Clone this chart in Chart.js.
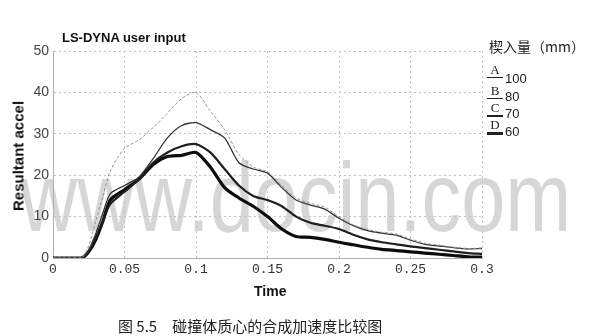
<!DOCTYPE html>
<html>
<head>
<meta charset="utf-8">
<script src="https://cdn.jsdelivr.net/npm/chart.js@4/dist/chart.umd.min.js"></script>
<style>
  body { margin: 0; background: #fff; }
  #wrap { position: relative; width: 593px; height: 336px; overflow: hidden; font-family: "Liberation Sans", Arial, sans-serif; }
  #wm { position: absolute; left: 20px; top: 148px; font-size: 98px; line-height: 1; color: #d6d6d6; white-space: nowrap; transform: scaleX(0.81); transform-origin: left top; }
  #chartBox { position: absolute; left: 0; top: 0; width: 593px; height: 336px; }
  .txt { position: absolute; white-space: nowrap; color: #111; }
  #title { left: 62px; top: 30px; font-size: 13px; font-weight: bold; }
  #ylab { left: 18px; top: 156px; font-size: 15px; font-weight: bold; transform: translate(-50%, -50%) rotate(-90deg); }
  #xlab { left: 254px; top: 283px; font-size: 14px; font-weight: bold; }
  #caption { left: 118px; top: 315px; font-size: 15px; font-family: "Noto Sans CJK SC", sans-serif; color: #222; }
  #legTitle { left: 489px; top: 36px; font-size: 14px; font-family: "Noto Sans CJK SC", sans-serif; color: #222; }
  .lg { position: absolute; left: 487px; width: 16px; text-align: center; font-family: "Liberation Serif", serif; font-size: 13px; line-height: 12px; color: #222; }
  .lg span { display: block; margin-top: 1px; background: #222; }
  .lv { position: absolute; left: 505px; font-size: 13px; line-height: 12px; color: #222; }
</style>
</head>
<body>
<div id="wrap">
  <div id="wm">www.docin.com</div>
  <div id="chartBox"><canvas id="accelChart" width="593" height="336"></canvas></div>
  <div class="txt" id="title">LS-DYNA user input</div>
  <div class="txt" id="ylab">Resultant accel</div>
  <div class="txt" id="xlab">Time</div>
  <div class="txt" id="caption">图 5.5　碰撞体质心的合成加速度比较图</div>
  <div class="txt" id="legTitle">楔入量（mm）</div>
  <div class="lg" style="top:64px">A<span style="height:1px"></span></div>
  <div class="lv" style="top:73px">100</div>
  <div class="lg" style="top:85px">B<span style="height:1px"></span></div>
  <div class="lv" style="top:91px">80</div>
  <div class="lg" style="top:102px">C<span style="height:2px"></span></div>
  <div class="lv" style="top:108px">70</div>
  <div class="lg" style="top:119px">D<span style="height:3px"></span></div>
  <div class="lv" style="top:126px">60</div>
</div>

<script>
// time axis (s)
const times = [0, 0.01, 0.02, 0.025, 0.03, 0.035, 0.04, 0.05, 0.06, 0.07, 0.08, 0.09, 0.1, 0.11, 0.12, 0.13, 0.14, 0.15,
  0.16, 0.17, 0.18, 0.19, 0.2, 0.21, 0.22, 0.23, 0.24, 0.25, 0.26, 0.27, 0.28, 0.29, 0.3];

// resultant accel for each wedge depth
const accelA = [0, 0, 0, 3, 9, 15, 21, 26.5, 28.5, 31.5, 35, 38.5, 40, 35.5, 31, 25, 22, 20.8,
  17.5, 14.5, 13.2, 12.3, 10, 8, 6.9, 6.2, 5.8, 4.6, 3.6, 3.1, 2.6, 2.3, 2.4];
const accelB = [0, 0, 0, 2, 6, 11, 15.5, 17.5, 19.5, 24, 29, 32, 32.7, 31, 29, 23, 21.5, 20.5,
  17, 14, 12.8, 11.8, 9.6, 7.8, 6.6, 6, 5.5, 4.3, 3.3, 2.9, 2.5, 2.2, 2.3];
const accelC = [0, 0, 0, 1.5, 5, 9, 13, 16, 19, 23, 25.5, 27, 27.5, 25.5, 21.5, 17.5, 15, 14,
  12.5, 10, 8.5, 7.8, 7, 5.6, 4.5, 3.8, 3.3, 2.8, 2.4, 2, 1.6, 1.2, 1];
const accelD = [0, 0, 0, 1.5, 4.5, 9, 14, 16.5, 19, 22.5, 24.5, 24.8, 25.5, 22, 17, 14.5, 12.5, 10,
  7, 5.2, 5, 4.5, 3.8, 3.2, 2.6, 2.1, 1.8, 1.5, 1.2, 0.9, 0.6, 0.3, 0.2];

const depths = ["100", "80", "70", "60"];
const xTicks = [0, 0.05, 0.1, 0.15, 0.2, 0.25, 0.3];

function toPoints(vals) {
  return vals.map((v, i) => ({ x: times[i], y: v }));
}

const gridStyle = { color: "#c2c2c2", lineWidth: 1, drawTicks: false };
const borderStyle = { color: "#b0b0b0", dash: [2, 3] };

const ctx = document.getElementById("accelChart").getContext("2d");
new Chart(ctx, {
  type: "line",
  data: {
    datasets: [
      { label: depths[0], data: toPoints(accelA), borderColor: "#949494", borderWidth: 1, borderDash: [3, 2] },
      { label: depths[1], data: toPoints(accelB), borderColor: "#333", borderWidth: 1.3 },
      { label: depths[2], data: toPoints(accelC), borderColor: "#1e1e1e", borderWidth: 2.2 },
      { label: depths[3], data: toPoints(accelD), borderColor: "#0c0c0c", borderWidth: 3.2 }
    ]
  },
  options: {
    responsive: false,
    animation: false,
    layout: { padding: { left: 0, right: 111, top: 51, bottom: 0 } },
    elements: { point: { radius: 0 }, line: { tension: 0.25, fill: false } },
    scales: {
      x: {
        type: "linear", min: 0, max: 0.3,
        afterFit: s => { s.height = 78; },
        afterBuildTicks: s => { s.ticks = xTicks.map(v => ({ value: v })); },
        grid: gridStyle,
        border: borderStyle,
        ticks: {
          padding: 4, color: "#333", maxRotation: 0,
          font: { family: "Liberation Mono", size: 13 },
          callback: v => v === 0 ? "0" : v.toString()
        }
      },
      y: {
        min: 0, max: 50,
        afterFit: s => { s.width = 53; },
        grid: gridStyle,
        border: borderStyle,
        ticks: { stepSize: 10, padding: 4, color: "#444", font: { family: "Liberation Sans", size: 14 } }
      }
    },
    plugins: { legend: { display: false }, tooltip: { enabled: false } }
  }
});
</script>
</body>
</html>
